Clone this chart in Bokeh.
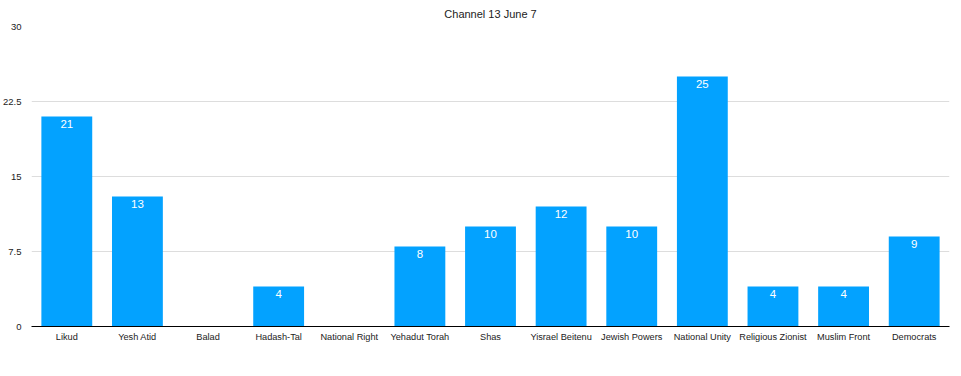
from bokeh.plotting import figure
from bokeh.models import ColumnDataSource, FixedTicker, FactorRange, Range1d
from bokeh.core.properties import value
from bokeh.embed import file_html
from bokeh.resources import INLINE

parties = ["Likud", "Yesh Atid", "Balad", "Hadash-Tal", "National Right", "Yehadut Torah",
           "Shas", "Yisrael Beitenu", "Jewish Powers", "National Unity", "Religious Zionist",
           "Muslim Front", "Democrats"]
seats = [21, 13, 0, 4, 0, 8, 10, 12, 10, 25, 4, 4, 9]
y_ticks = [0, 7.5, 15, 22.5, 30]
y_tick_labels = ["0", "7.5", "15", "22.5", "30"]
title = "Channel 13 June 7"

FONT = "Liberation Sans"

src = ColumnDataSource(dict(party=parties, seats=seats))
lab_parties = [p_ for p_, s in zip(parties, seats) if s > 0]
lab_seats = [s for s in seats if s > 0]
lab_src = ColumnDataSource(dict(party=lab_parties, seats=lab_seats, txt=[str(s) for s in lab_seats]))

p = figure(width=961, height=376, x_range=FactorRange(*parties, range_padding=0),
           y_range=Range1d(0, 30), output_backend="svg", toolbar_location=None,
           title=title, min_border_left=31, min_border_right=12,
           min_border_bottom=50, min_border_top=26)
p.title.align = "center"
p.title.vertical_align = "middle"
p.title.text_font = FONT
p.title.text_font_size = "11px"
p.title.text_font_style = "normal"
p.title.text_color = "#222222"
p.title.offset = 0
p.title.standoff = 12

p.vbar(x="party", top="seats", width=0.72, source=src, color="#03A2FF", line_color=None)
p.text(x="party", y="seats", text="txt", source=lab_src, text_color="white",
       text_font=value(FONT), text_font_size="11.5px", text_align="center",
       text_baseline="top", y_offset=3)

p.outline_line_color = None
p.xgrid.grid_line_color = None
p.ygrid.grid_line_color = "#dddddd"
p.ygrid.grid_line_width = 1

p.yaxis.ticker = FixedTicker(ticks=y_ticks)
p.yaxis.major_label_overrides = {t: l for t, l in zip(y_ticks, y_tick_labels)}
p.yaxis.axis_line_color = None
p.yaxis.major_tick_line_color = None
p.yaxis.minor_tick_line_color = None
p.yaxis.major_tick_out = 0
p.yaxis.major_tick_in = 0
p.yaxis.minor_tick_out = 0
p.yaxis.major_label_text_font = FONT
p.yaxis.major_label_text_font_size = "9.5px"
p.yaxis.major_label_text_color = "#222222"
p.yaxis.major_label_standoff = 10

p.xaxis.axis_line_color = "black"
p.xaxis.axis_line_width = 1
p.xaxis.major_tick_line_color = None
p.xaxis.minor_tick_line_color = None
p.xaxis.major_tick_out = 0
p.xaxis.major_tick_in = 0
p.xaxis.major_label_text_font = FONT
p.xaxis.major_label_text_font_size = "9.2px"
p.xaxis.major_label_text_color = "#222222"
p.xaxis.major_label_standoff = 5

open("out.html", "w").write(file_html(p, INLINE))
